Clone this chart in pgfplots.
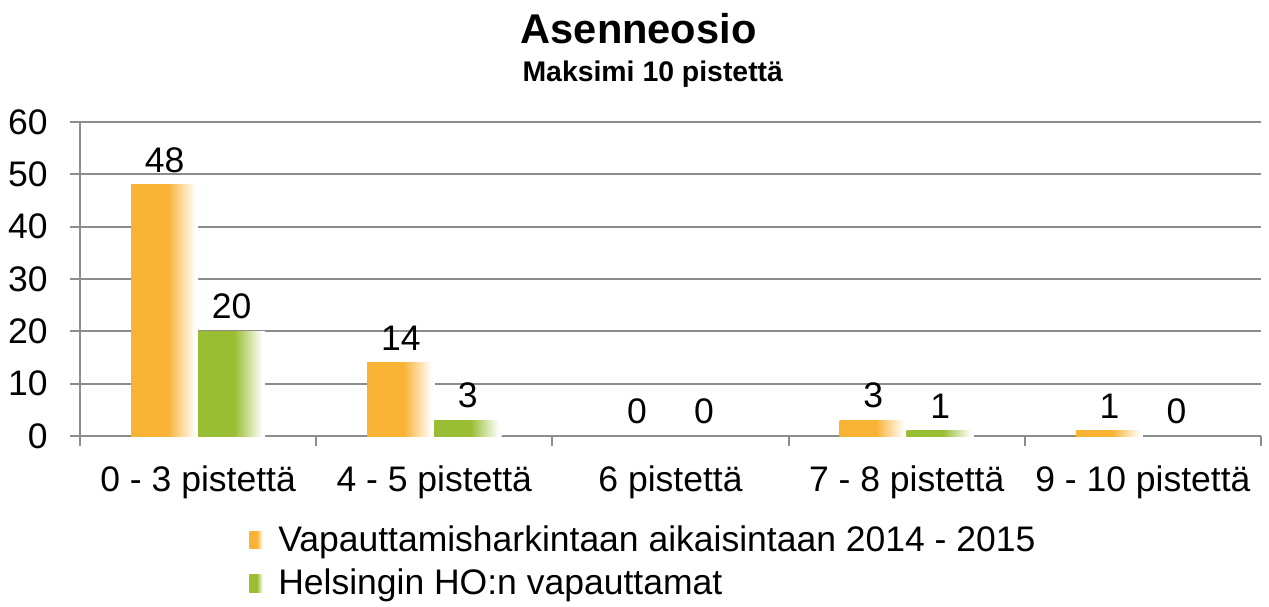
\documentclass[border=0pt]{standalone}
\usepackage{pgfplots}
\pgfplotsset{compat=1.18}
\usepackage{fontspec}
\setmainfont{Liberation Sans}

\definecolor{barorange}{HTML}{F8B234}
\definecolor{bargreen}{HTML}{99BE33}
\definecolor{gridgray}{HTML}{8C8C8C}

% solid for a little over half the bar, then fading out to white
\pgfdeclarehorizontalshading{orfade}{100bp}{color(0bp)=(barorange); color(52bp)=(barorange); color(73bp)=(white); color(100bp)=(white)}
\pgfdeclarehorizontalshading{grfade}{100bp}{color(0bp)=(bargreen); color(52bp)=(bargreen); color(73bp)=(white); color(100bp)=(white)}

\newcommand{\txt}{\fontsize{17.75}{21}\selectfont}

% one plot per bar, so that each bar gets its own shading
\pgfplotsset{
    orbar/.style={bar shift=-0.142, draw=none, shade, shading=orfade},
    grbar/.style={bar shift=0.142, draw=none, shade, shading=grfade},
}

\begin{document}
\begin{tikzpicture}
\begin{axis}[
    width=590.5pt, height=157pt, scale only axis,
    ybar,
    xmin=-0.5, xmax=4.5, ymin=0, ymax=60,
    axis x line*=bottom, axis y line*=left,
    axis line style={draw=gridgray, line width=1pt},
    ytick={0,10,...,60},
    xtick={-0.5,0.5,1.5,2.5,3.5,4.5},
    xticklabels={0 - 3 pistettä, 4 - 5 pistettä, 6 pistettä, 7 - 8 pistettä, 9 - 10 pistettä},
    x tick label as interval,
    tick align=outside, major tick length=5pt,
    tick style={draw=gridgray, line width=1pt},
    ymajorgrids, grid style={draw=gridgray, line width=1pt},
    /pgf/number format/assume math mode=true,
    tick label style={font=\txt},
    yticklabel style={anchor=east, inner sep=0pt, xshift=-11pt},
    xticklabel style={anchor=north, inner sep=0pt, yshift=-9.5pt},
    bar width=0.284,
    nodes near coords,
    nodes near coords style={font=\txt, text=black, yshift=2.5pt},
    clip=false,
    legend image code/.code={\path[#1, draw=none] (0pt,-4.3pt) rectangle (7pt,4.3pt);},
    legend style={at={(0.143,-0.40)}, anchor=west, draw=none, font=\txt,
        inner sep=0pt, row sep=7.5pt,
        nodes={inner sep=0pt},
        /tikz/every odd column/.append style={column sep=7.5pt}},
    legend cell align=left,
]
% Vapauttamisharkintaan aikaisintaan 2014 - 2015
\addplot[orbar] coordinates {(0,48)};
\addlegendentry{Vapauttamisharkintaan aikaisintaan 2014 - 2015}
\addplot[orbar, forget plot] coordinates {(1,14)};
\addplot[orbar, forget plot] coordinates {(3,3)};
\addplot[orbar, forget plot] coordinates {(4,1)};
\addplot[bar shift=-0.142, draw=none, fill=none, forget plot] coordinates {(2,0)};
% Helsingin HO:n vapauttamat
\addplot[grbar] coordinates {(0,20)};
\addlegendentry{Helsingin HO:n vapauttamat}
\addplot[grbar, forget plot] coordinates {(1,3)};
\addplot[grbar, forget plot] coordinates {(3,1)};
\addplot[bar shift=0.142, draw=none, fill=none, forget plot] coordinates {(2,0) (4,0)};

\node[font=\fontsize{20.8}{24}\selectfont\bfseries, anchor=base]
    at (rel axis cs:0.473,1.2516) {Asenneosio};
\node[font=\fontsize{14.2}{17}\selectfont\bfseries, anchor=base]
    at (rel axis cs:0.485,1.1306) {Maksimi 10 pistettä};
\coordinate (O) at (rel axis cs:0,0);
\end{axis}
\path (O) ++(-40pt,-85pt) rectangle ++(634.5pt,303pt);
\end{tikzpicture}
\end{document}
